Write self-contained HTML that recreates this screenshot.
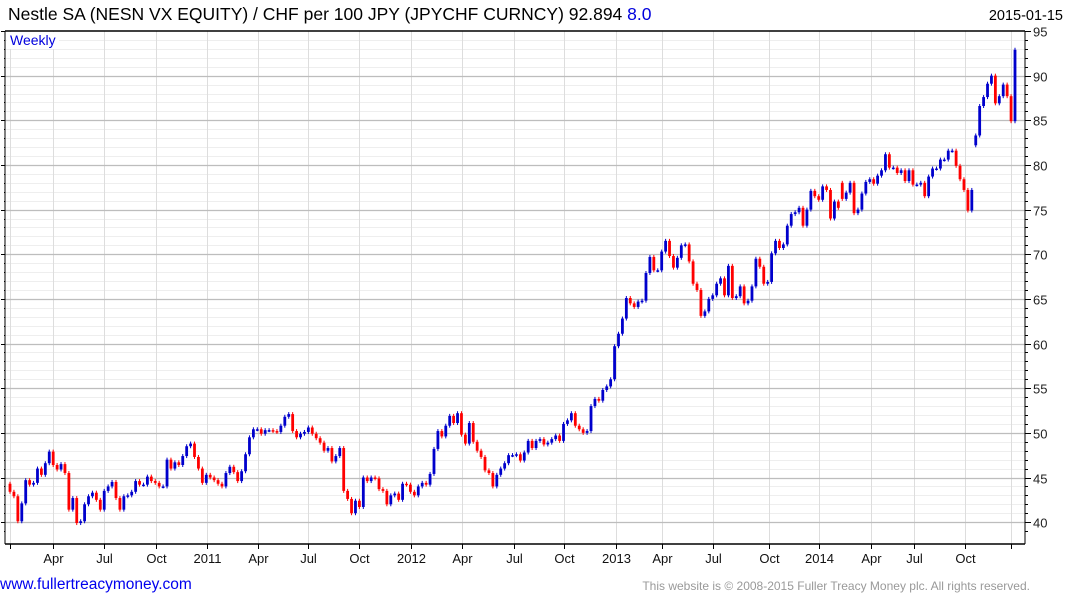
<!DOCTYPE html>
<html><head><meta charset="utf-8">
<style>
html,body{margin:0;padding:0;background:#fff;}
body{width:1075px;height:600px;overflow:hidden;position:relative;font-family:"Liberation Sans",Arial,sans-serif;}
svg{position:absolute;left:0;top:0;}
</style></head>
<body>
<svg id="chart" width="1075" height="600" viewBox="0 0 1075 600">
  <text x="8" y="20" font-size="17.5" fill="#000">Nestle SA (NESN VX EQUITY) / CHF per 100 JPY (JPYCHF CURNCY) 92.894 <tspan fill="#0000dd">8.0</tspan></text>
  <text x="1063" y="20" font-size="14.5" text-anchor="end" fill="#000">2015-01-15</text>
  <g id="grid"></g>
  <g id="bars"></g>
  <g id="axes"></g>
  <rect x="7" y="32" width="52" height="17" fill="#fff"/>
  <text x="10" y="45" font-size="14" fill="#0000dd">Weekly</text>
  <text x="0" y="589" font-size="15.5" fill="#0000ee">www.fullertreacymoney.com</text>
  <text x="1030" y="590" font-size="12" fill="#999" text-anchor="end">This website is © 2008-2015 Fuller Treacy Money plc. All rights reserved.</text>
</svg>
<script>
// weekly closes (first week Jan 2010 .. Jan 2015)
const closes = [
43.4,42.9,40.1,42.1,44.7,44.2,44.4,46.0,45.3,46.6,47.9,46.4,45.9,46.5,45.5,41.4,42.7,39.9,40.1,42.0,42.9,43.3,42.5,41.4,43.5,44.0,44.5,42.7,41.4,42.9,43.0,43.4,44.6,44.2,44.2,45.1,44.6,44.4,44.0,44.0,47.0,46.0,46.7,46.4,47.4,48.5,48.8,47.3,46.0,44.4,45.3,
45.0,44.7,44.3,44.0,45.5,46.2,45.6,44.6,45.7,47.6,49.5,50.4,50.4,49.9,50.3,
50.3,50.2,50.1,50.8,51.8,52.1,50.2,49.5,49.9,50.1,50.6,49.9,49.4,48.9,48.0,48.3,46.8,47.4,48.3,43.5,42.6,41.0,42.4,
41.7,45.0,44.6,45.0,44.9,43.7,43.5,42.0,43.0,43.2,42.5,44.3,44.2,43.4,43.0,44.0,44.4,44.2,45.4,48.2,50.2,49.6,50.8,51.9,51.1,52.2,49.8,48.8,51.1,49.0,48.0,47.3,45.8,45.5,44.0,45.3,46.0,46.6,47.5,47.5,47.6,46.9,47.8,49.1,48.3,49.1,49.3,48.7,48.9,49.3,49.7,49.1,51.0,51.4,52.2,50.8,50.4,50.0,50.2,53.0,53.8,53.6,54.8,55.2,56.0,
59.7,61.1,62.8,65.1,64.5,64.1,64.7,64.8,67.9,69.7,68.2,68.2,70.3,71.5,69.8,68.5,69.6,71.0,71.1,69.2,66.7,66.0,63.1,63.6,65.0,65.4,66.7,67.3,65.4,68.7,65.1,65.3,66.4,64.5,64.8,66.4,69.5,68.6,66.7,66.9,70.1,71.5,70.7,71.1,
73.2,74.5,74.7,75.2,73.2,75.0,77.1,76.5,76.1,77.6,77.2,74.0,75.9,75.2,76.2,76.9,78.0,74.6,75.0,76.8,78.1,78.4,77.9,78.8,79.4,81.2,79.7,79.7,79.1,79.4,78.2,79.4,77.8,77.8,78.0,76.5,78.7,79.6,79.6,80.6,80.6,81.6,81.6,79.9,78.4,77.2,74.9,77.2,83.3,86.6,87.6,89.1,90.0,86.9,87.7,89.0,87.7,84.9,92.9
];
const firstOpen = 44.3;
// [week index, open] where the open gapped away from the prior close
const openOverrides = [[212,78.0],[246,82.2]];
// y-axis values
const yTicks = [40,45,50,55,60,65,70,75,80,85,90,95];
const yMin = 39, yMax = 95;
// x-axis ticks (week numbers from first bar) and labels
const xTickWeeks = [0,11.2,24.3,37.7,50.9,64.1,77.2,90.4,103.7,116.9,130.3,143.4,156.8,168.8,181.9,196.3,209.3,222.7,233.8,247,259];
const xTickLabels = ["","Apr","Jul","Oct","2011","Apr","Jul","Oct","2012","Apr","Jul","Oct","2013","Apr","Jul","Oct","2014","Apr","Jul","Oct",""];

const NS = "http://www.w3.org/2000/svg";
const PL = 5, PR = 1025, PT = 31, PB = 544;
const totalWeeks = 260;
function xScale(w){ return 10 + w * (1005 / totalWeeks); }
function yScale(v){ return 31 + (95 - v) * 8.93; }
function mk(tag, attrs, parent){
  const e = document.createElementNS(NS, tag);
  for (const k in attrs) e.setAttribute(k, attrs[k]);
  parent.appendChild(e);
  return e;
}
const gridG = document.getElementById('grid');
const axesG = document.getElementById('axes');
const barsG = document.getElementById('bars');

for (let v = yMin + 1; v < yMax; v++) {
  if (v % 5 === 0) continue;
  const y = Math.round(yScale(v)) + 0.5;
  const ln = mk('line', {x1:PL, x2:PR, y1:y, y2:y, stroke:'#eeeeee', 'stroke-width':1}, gridG);
  
  
}
xTickWeeks.forEach((w, i) => {
  const x = Math.round(xScale(w)) + 0.5;
  const ln = mk('line', {x1:x, x2:x, y1:PT, y2:PB, stroke:'#dddddd', 'stroke-width':1}, gridG);
  
  
});
yTicks.forEach(v => {
  const y = Math.round(yScale(v)) + 0.5;
  if (v < 95) {
    const ln = mk('line', {x1:PL, x2:PR, y1:y, y2:y, stroke:'#bdbdbd', 'stroke-width':1.3}, gridG);
    
    
  }
  const t = mk('text', {x:1033, y:y + 5, 'font-size':13, fill:'#222'}, axesG);
  t.textContent = v;
  
  
});
for (let v = yMin; v <= yMax; v++) {
  const y = Math.round(yScale(v)) + 0.5;
  const len = v % 5 === 0 ? 6 : 3;
  const tk = mk('line', {x1:PR, x2:PR + len, y1:y, y2:y, stroke:'#000', 'stroke-width':1}, axesG);
  
  
  const tk2 = mk('line', {x1:PL - len + 2, x2:PL, y1:y, y2:y, stroke:'#000', 'stroke-width':1}, axesG);
  
  
}
const topBorder = mk('line', {x1:PL, x2:PR, y1:PT, y2:PT, stroke:'#000', 'stroke-width':1.5}, axesG);


const botAxis = mk('line', {x1:PL, x2:PR, y1:PB, y2:PB, stroke:'#000', 'stroke-width':1.5}, axesG);


const rAxis = mk('line', {x1:PR, x2:PR, y1:PT, y2:PB, stroke:'#000', 'stroke-width':1}, axesG);


const lAxis = mk('line', {x1:PL, x2:PL, y1:PT, y2:PB, stroke:'#000', 'stroke-width':1}, axesG);


xTickWeeks.forEach((w, i) => {
  const x = Math.round(xScale(w)) + 0.5;
  const tk = mk('line', {x1:x, x2:x, y1:PB, y2:PB + 5, stroke:'#000', 'stroke-width':1}, axesG);
  
  
  if (xTickLabels[i]) {
    const t = mk('text', {x:x, y:563, 'font-size':13, 'text-anchor':'middle', fill:'#111'}, axesG);
    t.textContent = xTickLabels[i];
    
    
  }
});
const ovr = {};
openOverrides.forEach(p => { ovr[p[0]] = p[1]; });
const step = totalWeeks / (closes.length - 1);
closes.forEach((c, i) => {
  let o = i === 0 ? firstOpen : closes[i - 1];
  if (ovr[i] !== undefined) o = ovr[i];
  const up = c >= o;
  const col = up ? '#0000cc' : '#ff0000';
  const x = xScale(i * step);
  const y1 = yScale(Math.max(o, c)), y2 = yScale(Math.min(o, c));
  const wick = mk('line', {x1:x, x2:x, y1:y1 - 2, y2:y2 + 2, stroke:col, 'stroke-width':1}, barsG);
  
  
  const r = mk('rect', {x:x - 1.4, y:y1, width:2.8, height:Math.max(1.5, y2 - y1), fill:col}, barsG);
  
  
});
</script>
</body></html>
